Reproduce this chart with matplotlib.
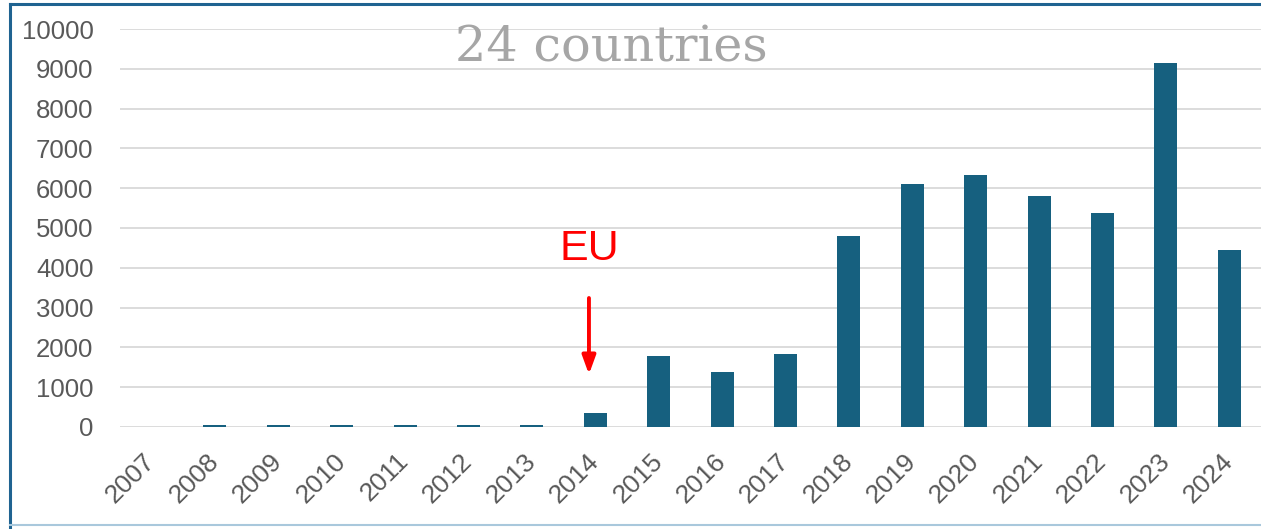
import numpy as np
import matplotlib.pyplot as plt
from matplotlib.lines import Line2D

years = ['2007', '2008', '2009', '2010', '2011', '2012', '2013', '2014', '2015',
         '2016', '2017', '2018', '2019', '2020', '2021', '2022', '2023', '2024']
values = [0, 50, 45, 60, 45, 60, 60, 350, 1780,
          1380, 1830, 4800, 6100, 6330, 5800, 5380, 9150, 4450]
yticks = [0, 1000, 2000, 3000, 4000, 5000, 6000, 7000, 8000, 9000, 10000]

fig = plt.figure(figsize=(12.61, 5.29), dpi=100)
ax = fig.add_axes([0.095, 0.193, 0.905, 0.752])

x = np.arange(len(years))
ax.bar(x, values, width=0.36, color='#16607f', zorder=3)

ax.set_ylim(0, 10000)
ax.set_xlim(-0.5, len(years) - 0.5)
ax.set_yticks(yticks)
ax.set_yticklabels([str(v) for v in yticks], fontsize=18.5, color='#595959',
                   family='Liberation Sans')
ax.set_xticks(x)
ax.set_xticklabels(years, fontsize=19, color='#595959', family='Liberation Sans',
                   rotation=45, ha='right', va='center', rotation_mode='anchor')
ax.tick_params(axis='y', length=0, pad=19)
ax.tick_params(axis='x', length=0, pad=22)
ax.grid(axis='y', color='#d9d9d9', linewidth=1.3, zorder=0)
for s in ax.spines.values():
    s.set_visible(False)

# EU annotation
ax.text(6.9, 4480, 'EU', color='#ff0000', fontsize=31, ha='center', va='center',
        family='Liberation Sans')
ax.annotate('', xy=(6.9, 1320), xytext=(6.9, 3240),
            arrowprops=dict(arrowstyle='-|>,head_width=0.4,head_length=1.1',
                            color='#ff0000', lw=2.8, shrinkA=0, shrinkB=0))

fig.text(611 / 1261, 1 - 48 / 529, '24 countries', fontsize=35.5, color='#a6a6a6',
         ha='center', va='center', family='DejaVu Serif')

# outer frame
fig.add_artist(Line2D([10 / 1261, 10 / 1261], [0, 1 - 4 / 529], color='#1f6391',
                      lw=2.2, transform=fig.transFigure))
fig.add_artist(Line2D([10 / 1261, 1], [1 - 4 / 529, 1 - 4 / 529], color='#1f6391',
                      lw=2.2, transform=fig.transFigure))
fig.add_artist(Line2D([10 / 1261, 1], [4 / 529, 4 / 529], color='#a9c8dc',
                      lw=1.5, transform=fig.transFigure))

fig.savefig('out.png', dpi=100)
